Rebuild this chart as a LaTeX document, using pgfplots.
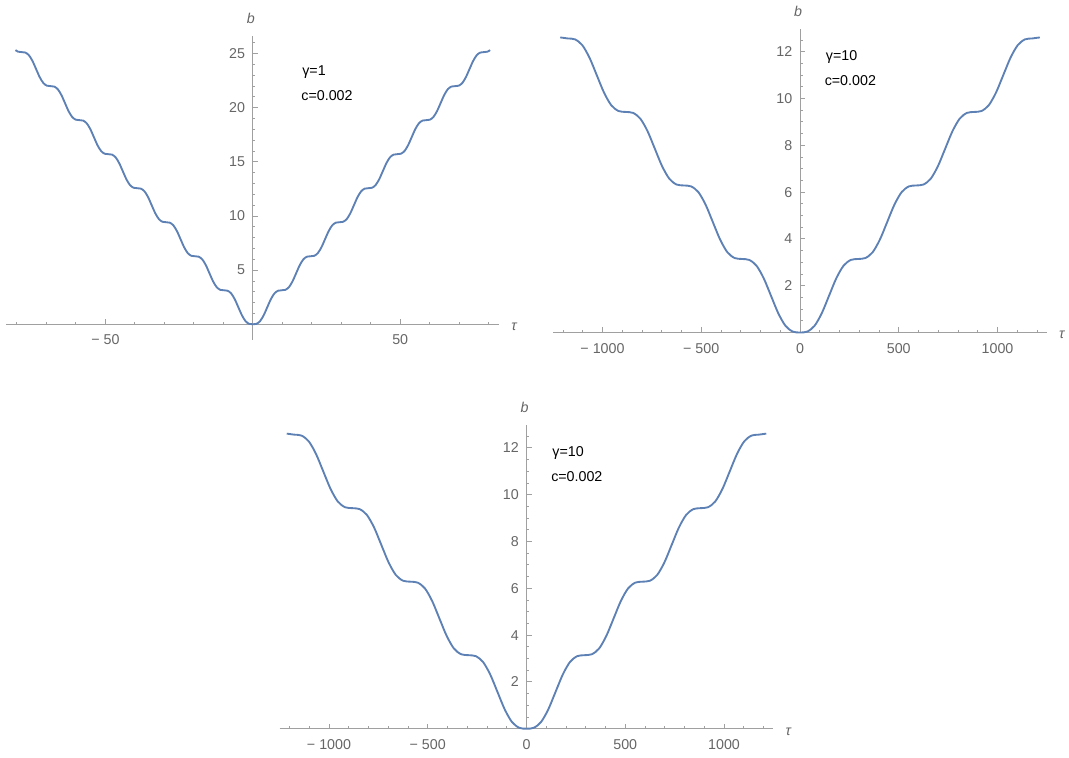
\documentclass[border=0pt]{standalone}
\usepackage{fontspec}
\setmainfont{Liberation Sans}
\usepackage{pgfplots}
\pgfplotsset{compat=1.18}
\usepackage{pgfplotstable}
\definecolor{curve}{HTML}{5E81B5}
\definecolor{axisgray}{HTML}{A0A0A0}
\definecolor{labgray}{HTML}{666666}

\pgfplotstableread{
t b
-80.5 25.318
-79.625 25.172
-78.4 25.133
-77.175 25.093
-75.95 24.847
-74.725 24.308
-73.5 23.562
-72.275 22.816
-71.05 22.276
-69.825 22.030
-68.6 21.991
-67.375 21.952
-66.15 21.706
-64.925 21.167
-63.7 20.421
-62.475 19.675
-61.25 19.135
-60.025 18.889
-58.8 18.850
-57.575 18.810
-56.35 18.564
-55.125 18.025
-53.9 17.279
-52.675 16.533
-51.45 15.993
-50.225 15.747
-49.0 15.708
-47.775 15.668
-46.55 15.422
-45.325 14.883
-44.1 14.137
-42.875 13.391
-41.65 12.851
-40.425 12.605
-39.2 12.566
-37.975 12.527
-36.75 12.281
-35.525 11.742
-34.3 10.996
-33.075 10.250
-31.85 9.710
-30.625 9.464
-29.4 9.425
-28.175 9.385
-26.95 9.139
-25.725 8.600
-24.5 7.854
-23.275 7.108
-22.05 6.568
-20.825 6.322
-19.6 6.283
-18.375 6.244
-17.15 5.998
-15.925 5.459
-14.7 4.712
-13.475 3.967
-12.25 3.427
-11.025 3.181
-9.8 3.142
-8.575 3.102
-7.35 2.856
-6.125 2.317
-4.9 1.571
-3.675 0.825
-2.45 0.285
-1.225 0.039
0 0
1.225 0.039
2.45 0.285
3.675 0.825
4.9 1.571
6.125 2.317
7.35 2.856
8.575 3.102
9.8 3.142
11.025 3.181
12.25 3.427
13.475 3.967
14.7 4.712
15.925 5.459
17.15 5.998
18.375 6.244
19.6 6.283
20.825 6.322
22.05 6.568
23.275 7.108
24.5 7.854
25.725 8.600
26.95 9.139
28.175 9.385
29.4 9.425
30.625 9.464
31.85 9.710
33.075 10.250
34.3 10.996
35.525 11.742
36.75 12.281
37.975 12.527
39.2 12.566
40.425 12.605
41.65 12.851
42.875 13.391
44.1 14.137
45.325 14.883
46.55 15.422
47.775 15.668
49.0 15.708
50.225 15.747
51.45 15.993
52.675 16.533
53.9 17.279
55.125 18.025
56.35 18.564
57.575 18.810
58.8 18.850
60.025 18.889
61.25 19.135
62.475 19.675
63.7 20.421
64.925 21.167
66.15 21.706
67.375 21.952
68.6 21.991
69.825 22.030
71.05 22.276
72.275 22.816
73.5 23.562
74.725 24.308
75.95 24.847
77.175 25.093
78.4 25.133
79.625 25.172
80.5 25.318
}\dataA

\pgfplotstableread{
t b
-1214 12.61
-1176 12.566
-1139.25 12.527
-1102.5 12.281
-1065.75 11.742
-1029 10.996
-992.25 10.250
-955.5 9.710
-918.75 9.464
-882 9.425
-845.25 9.385
-808.5 9.139
-771.75 8.600
-735 7.854
-698.25 7.108
-661.5 6.568
-624.75 6.322
-588 6.283
-551.25 6.244
-514.5 5.998
-477.75 5.459
-441 4.712
-404.25 3.967
-367.5 3.427
-330.75 3.181
-294 3.142
-257.25 3.102
-220.5 2.856
-183.75 2.317
-147 1.571
-110.25 0.825
-73.5 0.285
-36.75 0.039
0 0
36.75 0.039
73.5 0.285
110.25 0.825
147 1.571
183.75 2.317
220.5 2.856
257.25 3.102
294 3.142
330.75 3.181
367.5 3.427
404.25 3.967
441 4.712
477.75 5.459
514.5 5.998
551.25 6.244
588 6.283
624.75 6.322
661.5 6.568
698.25 7.108
735 7.854
771.75 8.600
808.5 9.139
845.25 9.385
882 9.425
918.75 9.464
955.5 9.710
992.25 10.250
1029 10.996
1065.75 11.742
1102.5 12.281
1139.25 12.527
1176 12.566
1214 12.61
}\dataB

\pgfplotsset{mstyle/.style={
  axis lines=middle,
  axis line style={draw=axisgray, line width=0.75pt, -},
  tick style={draw=axisgray, line width=0.7pt},
  tick align=inside,
  major tick length=3.75pt,
  minor tick length=2pt,
  hide obscured x ticks=false,
  hide obscured y ticks=false,
  tick label style={font=\fontsize{10.7}{12}\selectfont, text=labgray},
  xticklabel style={yshift=-4.5pt},
  yticklabel style={xshift=-2.25pt},
  /pgf/number format/assume math mode=true,
  xlabel={\textit{τ}}, ylabel={\textit{b}},
  x label style={at={(current axis.right of origin)}, anchor=west, font=\fontsize{10.7}{12}\selectfont, text=labgray, xshift=5.5pt, yshift=-2pt},
  y label style={at={(current axis.above origin)}, anchor=south, rotate=0, font=\fontsize{10.7}{12}\selectfont, text=labgray, xshift=-1.5pt, yshift=5.8pt},
  clip=false,
  anchor=origin,
}}
\tikzset{ann/.style={anchor=west, inner sep=0pt, text depth=0pt, font=\fontsize{10.7}{12}\selectfont, text=black}}

\begin{document}
\begin{tikzpicture}
\begin{axis}[mstyle, at={(189.6pt,324.525pt)}, x=2.211pt, y=8.1225pt,
  xmin=-83.6, xmax=83.6, ymin=-1.45, ymax=26.6,
  xtick={-50,50}, xticklabels={− 50,50}, minor xtick={-80,-70,...,80},
  ytick={5,10,15,20,25}, yticklabels={5,10,15,20,25}, minor ytick={1,2,...,26}]
\addplot[curve, line width=1.4pt, smooth] table {\dataA};
\node[ann] at (axis cs:16.7,23.4) {γ=1};
\node[ann] at (axis cs:16.4,21.1) {c=0.002};
\end{axis}

\begin{axis}[mstyle, at={(600pt,318.375pt)}, x=0.148125pt, y=17.55pt,
  xmin=-1250, xmax=1250, ymin=0, ymax=12.96,
  xtick={-1000,-500,0,500,1000}, xticklabels={− 1000,− 500,0,500,1000}, minor xtick={-1200,-1100,...,1200},
  ytick={2,4,6,8,10,12}, yticklabels={2,4,6,8,10,12}, minor ytick={0.5,1,...,12.5}]
\addplot[curve, line width=1.4pt, smooth] table {\dataB};
\node[ann] at (axis cs:130,11.85) {γ=10};
\node[ann] at (axis cs:124,10.78) {c=0.002};
\end{axis}

\begin{axis}[mstyle, at={(394.875pt,21.225pt)}, x=0.148125pt, y=17.55pt,
  xmin=-1250, xmax=1250, ymin=0, ymax=12.96,
  xtick={-1000,-500,0,500,1000}, xticklabels={− 1000,− 500,0,500,1000}, minor xtick={-1200,-1100,...,1200},
  ytick={2,4,6,8,10,12}, yticklabels={2,4,6,8,10,12}, minor ytick={0.5,1,...,12.5}]
\addplot[curve, line width=1.4pt, smooth] table {\dataB};
\node[ann] at (axis cs:130,11.85) {γ=10};
\node[ann] at (axis cs:124,10.78) {c=0.002};
\end{axis}
\pgfresetboundingbox
\path (0,0) rectangle (801.75pt,567.75pt);
\end{tikzpicture}
\end{document}
